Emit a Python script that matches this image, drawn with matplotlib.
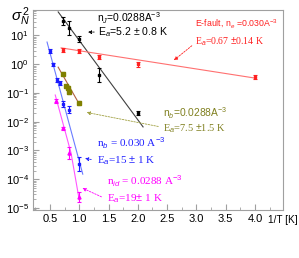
import numpy as np
import matplotlib
matplotlib.use('Agg')
import matplotlib.pyplot as plt

plt.rcParams['font.family'] = ['Liberation Sans', 'DejaVu Sans']
plt.rcParams['mathtext.fontset'] = 'custom'
plt.rcParams['mathtext.rm'] = 'Liberation Sans'
plt.rcParams['mathtext.it'] = 'Liberation Sans:italic'

# ---- data (x = 1/T, y = sigma_N^2) ----
x_J = [0.714, 0.833, 1.0, 1.333, 2.0]
y_J = [32, 18, 7.6, 0.43, 0.020]
e_J = [0.15, 0.25, 0.10, 0.25, 0.07]          # error, decades

x_E = [0.714, 1.0, 1.333, 2.0, 4.0]
y_E = [3.1, 2.9, 1.8, 1.0, 0.36]
e_E = [0.07, 0.06, 0.07, 0.08, 0.08]

x_B = [0.5, 0.556, 0.625, 0.667, 0.714, 0.833, 1.0]
y_B = [2.9, 1.0, 0.28, 0.22, 0.042, 0.026, 3.4e-4]
e_B = [0.07, 0.05, 0.08, 0.08, 0.10, 0.12, 0.25]

x_O = [0.714, 0.769, 0.8, 0.833, 1.0]
y_O = [0.46, 0.17, 0.15, 0.107, 0.045]
e_O = [0.05, 0.06, 0.05, 0.05, 0.07]

x_M = [0.6, 0.714, 0.833, 1.0]
y_M = [0.052, 0.006, 8.1e-4, 2.4e-5]
e_M = [0.06, 0.05, 0.22, 0.18]

# fit lines (end points)
fx_J, fy_J = [0.64, 2.09], [66, 0.0066]
fx_E, fy_E = [0.69, 4.0], [3.7, 0.33]
fx_B, fy_B = [0.45, 1.06], [5.9, 1.5e-4]
fx_O, fy_O = [0.64, 1.01], [0.79, 0.038]
fx_M, fy_M = [0.59, 0.86, 1.0], [0.085, 8.1e-4, 1.9e-5]

fig = plt.figure(figsize=(2.99, 2.58), dpi=100)
W, H = 299, 258
ax = fig.add_axes([33 / W, 1 - 210 / H, 250 / W, 200 / H])
ax.set_yscale('log')
ax.set_xlim(0.21, 4.48)
ax.set_ylim(8.5e-6, 77)


def err(y, d):
    y = np.array(y)
    d = np.array(d)
    return [y - y * 10 ** (-d), y * 10 ** d - y]


def series(x, y, e, fx, fy, pcol, lcol, mk, ms=1.8):
    ax.plot(fx, fy, color=lcol, lw=0.8, zorder=2)
    ax.errorbar(x, y, yerr=err(y, e), fmt=mk, color=pcol, ms=ms,
                elinewidth=0.8, capsize=1.3, capthick=0.8, zorder=3)


series(x_J, y_J, e_J, fx_J, fy_J, 'black', '#404040', 's')
series(x_E, y_E, e_E, fx_E, fy_E, '#ff2020', '#ff7070', 's')
series(x_B, y_B, e_B, fx_B, fy_B, '#1a1aff', '#6a7cff', 's')
series(x_O, y_O, e_O, fx_O, fy_O, '#808000', '#b06040', 's', 2.2)
series(x_M, y_M, e_M, fx_M, fy_M, '#ff00ff', '#ff55ff', '^', 2.2)

# frame and ticks in ROOT style
for s in ax.spines.values():
    s.set_color('#a0a0a0')
    s.set_linewidth(0.8)
ax.set_xticks([0.5, 1.0, 1.5, 2.0, 2.5, 3.0, 3.5, 4.0])
ax.set_xticks(np.arange(0.25, 4.5, 0.25), minor=True)
ax.set_yticks([1e-5, 1e-4, 1e-3, 1e-2, 1e-1, 1, 10])
ax.tick_params(which='both', direction='in', color='#a0a0a0',
               top=False, right=False, labelsize=8)
ax.tick_params(which='major', length=4, width=0.8, pad=3)
ax.tick_params(which='minor', length=2, width=0.6)

# labels
fig.text(11 / W, 1 - 17 / H, r'$\sigma_{N}^{\,2}$', fontsize=11,
         va='center', ha='left')
fig.text(268 / W, 1 - 220 / H, '1/T [K]', fontsize=7.2, va='center',
         ha='left')


def ftxt(x, y, s, c, fs, fam='Liberation Sans'):
    fig.text(x / W, 1 - y / H, s, color=c, fontsize=fs, family=fam,
             va='center', ha='left')


ftxt(97, 18, r'n$_{J}$=0.0288A$^{-3}$', 'black', 7.4)
ftxt(98, 32, r'E$_{a}$=5.2 $\pm$ 0.8 K', 'black', 7.6)
ftxt(195, 24, r'E-fault, n$_{e}$ =0.030A$^{-3}$', '#ff2020', 6.3)
ftxt(195, 42, r'E$_{a}$=0.67 $\pm$0.14 K', '#ff2020', 7,
     'Liberation Serif')
ftxt(163, 113, r'n$_{b}$=0.0288A$^{-3}$', '#808020', 7.4)
ftxt(163, 129, r'E$_{a}$=7.5 $\pm$1.5 K', '#808020', 7.5, 'Liberation Serif')
ftxt(97, 143, r'n$_{b}$ = 0.030 A$^{-3}$', '#2020ff', 8, 'Liberation Serif')
ftxt(97, 161, r'E$_{a}$=15 $\pm$ 1 K', '#2020ff', 8, 'Liberation Serif')
ftxt(107, 181, r'n$_{id}$ = 0.0288 A$^{-3}$', '#ff00ff', 8,
     'Liberation Serif')
ftxt(107, 199, r'E$_{a}$=19$\pm$ 1 K', '#ff00ff', 8, 'Liberation Serif')


# pointer arrows from the labels to the fits
def arrow(xy, txt_px, c):
    ax.annotate('', xy=xy, xycoords='data',
                xytext=(txt_px[0] / W, 1 - txt_px[1] / H),
                textcoords='figure fraction',
                arrowprops=dict(arrowstyle='-|>', color=c, lw=0.6,
                                ls=(0, (2, 1.5)), mutation_scale=5))


arrow((1.10, 13), (97, 32), 'black')
arrow((2.58, 1.2), (194, 44), '#ff2020')
arrow((1.08, 0.022), (161, 127), '#a0a040')
arrow((1.05, 5.5e-4), (94, 160), '#2020ff')
arrow((1.01, 5.4e-5), (104, 198), '#ff00ff')

fig.savefig('out.png', dpi=100)
